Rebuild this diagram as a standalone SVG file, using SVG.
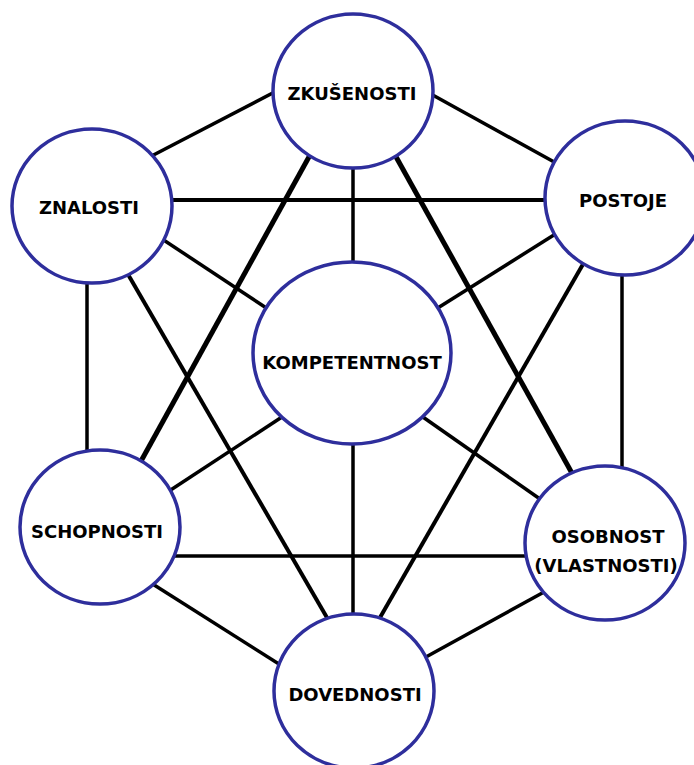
<svg xmlns="http://www.w3.org/2000/svg" width="694" height="765" viewBox="0 0 694 765">
  <style>
    .edge { stroke: #000; stroke-width: 3.5; stroke-linecap: butt; fill: none; }
    .edge.heavy { stroke-width: 5; }
    .edge.mid { stroke-width: 4; }
    .node ellipse { fill: #fff; stroke: #2e2e9c; stroke-width: 3.5; }
    .node text { font-family: "DejaVu Sans", "Liberation Sans", sans-serif; font-weight: bold; font-size: 18px; fill: #000; text-anchor: middle; }
  </style>
  <rect width="694" height="765" fill="#fff"/>

  <!-- connectors -->
  <g id="connectors">
    <line class="edge" x1="290" y1="84" x2="140" y2="162"/>
    <line class="edge" x1="420" y1="88" x2="565" y2="168"/>
    <line class="edge" x1="353" y1="160" x2="353" y2="275"/>
    <line class="edge heavy" x1="315" y1="146" x2="135" y2="472"/>
    <line class="edge heavy" x1="390" y1="146" x2="578" y2="484"/>
    <line class="edge mid" x1="160" y1="200" x2="560" y2="200"/>
    <line class="edge" x1="150" y1="231" x2="280" y2="317"/>
    <line class="edge" x1="87" y1="270" x2="87" y2="465"/>
    <line class="edge mid" x1="122" y1="264" x2="333" y2="628"/>
    <line class="edge" x1="565" y1="228" x2="425" y2="316"/>
    <line class="edge" x1="622" y1="262" x2="622" y2="480"/>
    <line class="edge mid" x1="590" y1="252" x2="374" y2="628"/>
    <line class="edge" x1="285" y1="415" x2="160" y2="497"/>
    <line class="edge" x1="420" y1="415" x2="550" y2="506"/>
    <line class="edge" x1="353" y1="440" x2="353" y2="625"/>
    <line class="edge" x1="165" y1="556" x2="540" y2="556"/>
    <line class="edge" x1="140" y1="576" x2="290" y2="671"/>
    <line class="edge" x1="555" y1="586" x2="415" y2="663"/>
  </g>

  <!-- nodes -->
  <g id="zkusenosti" class="node">
    <ellipse cx="353" cy="91" rx="80" ry="77"/>
    <text x="352" y="100">ZKUŠENOSTI</text>
  </g>
  <g id="znalosti" class="node">
    <ellipse cx="92" cy="206" rx="80" ry="77"/>
    <text x="89" y="214">ZNALOSTI</text>
  </g>
  <g id="postoje" class="node">
    <ellipse cx="625" cy="198" rx="80" ry="77"/>
    <text x="623" y="207">POSTOJE</text>
  </g>
  <g id="kompetentnost" class="node">
    <ellipse cx="352" cy="353" rx="99" ry="91"/>
    <text x="352" y="369">KOMPETENTNOST</text>
  </g>
  <g id="schopnosti" class="node">
    <ellipse cx="100" cy="527" rx="80" ry="77"/>
    <text x="97" y="538">SCHOPNOSTI</text>
  </g>
  <g id="osobnost" class="node">
    <ellipse cx="605" cy="543" rx="80" ry="77"/>
    <text x="608" y="543">OSOBNOST</text>
    <text x="606" y="572">(VLASTNOSTI)</text>
  </g>
  <g id="dovednosti" class="node">
    <ellipse cx="354" cy="691" rx="80" ry="77"/>
    <text x="355" y="701">DOVEDNOSTI</text>
  </g>
</svg>
